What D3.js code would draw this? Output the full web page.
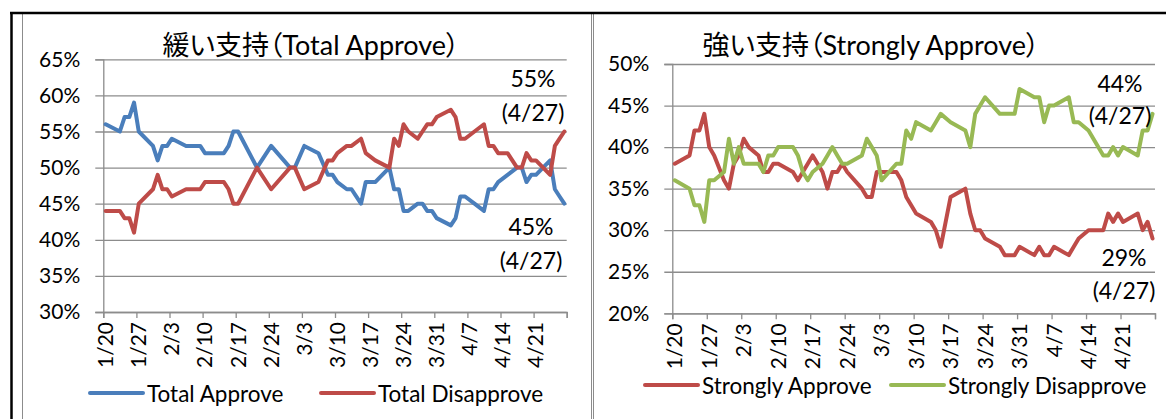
<!DOCTYPE html>
<html><head><meta charset="utf-8">
<script src="https://cdn.jsdelivr.net/npm/d3@7"></script>
<style>body{margin:0;background:#fff} svg{display:block} .ttl{font-feature-settings:"palt" 1;}</style>
</head><body>
<svg id="c" width="1166" height="419"></svg>
<script>
// ---------- data ----------
const tickLabels = ["1/20","1/27","2/3","2/10","2/17","2/24","3/3","3/10","3/17","3/24","3/31","4/7","4/14","4/21"];

const totalDates = ["1/20","1/23","1/24","1/25","1/26","1/27","1/30","1/31","2/1","2/2","2/3","2/6","2/9","2/10","2/14","2/15","2/16","2/17","2/21","2/24","2/28","3/1","3/3","3/6","3/8","3/9","3/10","3/12","3/13","3/15","3/16","3/18","3/21","3/22","3/23","3/24","3/25","3/27","3/28","3/29","3/30","3/31","4/3","4/4","4/5","4/6","4/8","4/10","4/11","4/12","4/13","4/15","4/17","4/18","4/19","4/20","4/21","4/24","4/25","4/26","4/27"];
const totalApprove = [56,55,57,57,59,55,53,51,53,53,54,53,53,52,52,53,55,55,50,53,50,50,53,52,49,49,48,47,47,45,48,48,50,47,47,44,44,45,45,44,44,43,42,43,46,46,45,44,47,47,48,49,50,50,48,49,49,51,47,46,45];
const totalDisapprove = [44,44,43,43,41,45,47,49,47,47,46,47,47,48,48,47,45,45,50,47,50,50,47,48,51,51,52,53,53,54,52,51,50,54,53,56,55,54,55,56,56,57,58,57,54,54,55,56,53,53,52,52,50,50,52,51,51,49,53,54,55];
const totalTicks = [30,35,40,45,50,55,60,65];

const strongDates = ["1/20","1/23","1/24","1/25","1/26","1/27","1/28","1/30","1/31","2/1","2/2","2/3","2/4","2/6","2/7","2/8","2/9","2/10","2/13","2/14","2/15","2/16","2/17","2/19","2/20","2/21","2/22","2/23","2/24","2/27","2/28","3/1","3/2","3/3","3/6","3/7","3/8","3/9","3/10","3/13","3/14","3/15","3/17","3/20","3/21","3/22","3/23","3/24","3/27","3/28","3/30","3/31","4/3","4/4","4/5","4/6","4/7","4/10","4/11","4/12","4/14","4/17","4/18","4/19","4/20","4/21","4/24","4/25","4/26","4/27"];
const stronglyApprove = [38,39,42,42,44,40,39,36,35,38,39,41,40,39,37,37,38,38,37,36,37,38,39,37,35,37,37,38,37,35,34,34,37,37,37,36,34,33,32,31,30,28,34,35,32,30,30,29,28,27,27,28,27,28,27,27,28,27,28,29,30,30,32,31,32,31,32,30,31,29];
const stronglyDisapprove = [36,35,33,33,31,36,36,37,41,38,40,38,38,38,37,39,39,40,40,39,37,36,37,38,39,40,39,38,38,39,41,40,39,36,38,38,42,41,43,42,43,44,43,42,40,44,45,46,44,44,44,47,46,46,43,45,45,46,43,43,42,39,39,40,39,40,39,42,42,44];
const strongTicks = [20,25,30,35,40,45,50];

// ---------- helpers ----------
const FONT = "Lato, 'Noto Sans CJK JP', sans-serif";
const GRID = "#8c8c8c";
const start = new Date(2017, 0, 20);
const dayIndex = s => { const [m, d] = s.split("/").map(Number); return Math.round((new Date(2017, m - 1, d) - start) / 864e5); };
const svg = d3.select("#c");

function drawChart(cfg) {
  const g = svg.append("g");
  const x = d3.scaleLinear().domain([-0.5, 97.5]).range([cfg.x0, cfg.x1]);
  const y = d3.scaleLinear().domain([d3.min(cfg.ticks), d3.max(cfg.ticks)]).range([cfg.yBot, cfg.yTop]);
  const w = cfg.x1 - cfg.x0;

  // gridlines + y labels (via axis)
  const ya = g.append("g").attr("transform", `translate(${cfg.x0},0)`)
    .call(d3.axisLeft(y).tickValues(cfg.ticks).tickFormat(d => d + "%").tickSize(8).tickPadding(15));
  ya.select(".domain").attr("stroke", GRID).attr("stroke-width", 1.3);
  ya.selectAll(".tick line").attr("stroke", GRID).attr("stroke-width", 1.3).attr("x1", -8).attr("x2", w);
  ya.selectAll(".tick text").attr("font-family", FONT).attr("font-size", cfg.fs).attr("fill", "#000");

  // x axis: ticks at week boundaries, labels at week start days
  const xa = g.append("g").attr("transform", `translate(0,${cfg.yBot})`)
    .call(d3.axisBottom(x).tickValues(d3.range(0, 15).map(k => 7 * k - 0.5)).tickSize(6).tickFormat(""));
  xa.select(".domain").attr("stroke", GRID).attr("stroke-width", 1.3);
  xa.selectAll(".tick line").attr("stroke", GRID).attr("stroke-width", 1.3);
  g.append("g").selectAll("text").data(tickLabels).join("text")
    .attr("transform", d => `translate(${x(dayIndex(d)) + 7.5},${cfg.yBot + 10}) rotate(-90)`)
    .attr("text-anchor", "end").attr("font-family", FONT).attr("font-size", cfg.fs).text(d => d);

  // series lines
  cfg.series.forEach(s => {
    const pts = cfg.dates.map((d, i) => [dayIndex(d), s.values[i]]);
    g.append("path").datum(pts)
      .attr("d", d3.line().x(p => x(p[0])).y(p => y(p[1])))
      .attr("fill", "none").attr("stroke", s.color).attr("stroke-width", 4)
      .attr("stroke-linejoin", "round").attr("stroke-linecap", "round");
  });

  // title
  g.append("text").attr("class", "ttl").attr("x", cfg.titleX).attr("y", cfg.titleY).attr("text-anchor", "middle")
    .attr("font-family", FONT).attr("font-size", cfg.titleFs).text(cfg.title);

  // annotations
  cfg.notes.forEach(n => {
    n.lines.forEach((t, k) => g.append("text").attr("x", n.x).attr("y", n.y + k * n.dy)
      .attr("text-anchor", "middle").attr("dominant-baseline", "central")
      .attr("font-family", FONT).attr("font-size", cfg.noteFs).text(t));
  });

  // legend
  cfg.series.forEach((s, i) => {
    const lx = cfg.legend.xs[i];
    g.append("line").attr("x1", lx).attr("x2", lx + 53).attr("y1", cfg.legend.y).attr("y2", cfg.legend.y)
      .attr("stroke", s.color).attr("stroke-width", 4).attr("stroke-linecap", "round");
    g.append("text").attr("x", lx + 57).attr("y", cfg.legend.y).attr("dominant-baseline", "central")
      .attr("font-family", FONT).attr("font-size", cfg.legendFs).text(s.name);
  });
}

// frames
svg.append("rect").attr("x", 22.5).attr("y", 13).attr("width", 569).attr("height", 420).attr("fill", "none").attr("stroke", "#8c8c8c");
svg.append("rect").attr("x", 593.5).attr("y", 13).attr("width", 600).attr("height", 420).attr("fill", "none").attr("stroke", "#8c8c8c");
svg.append("line").attr("x1", 10).attr("x2", 1166).attr("y1", 13).attr("y2", 13).attr("stroke", "#000").attr("stroke-width", 2.5);
svg.append("line").attr("x1", 11.5).attr("x2", 11.5).attr("y1", 12).attr("y2", 419).attr("stroke", "#000").attr("stroke-width", 2.5);

drawChart({
  x0: 103.3, x1: 566.7, yTop: 59.3, yBot: 312, ticks: totalTicks, dates: totalDates, fs: 21, legendFs: 22.5,
  series: [
    { name: "Total Approve", color: "#4a7ebb", values: totalApprove },
    { name: "Total Disapprove", color: "#be4b48", values: totalDisapprove }
  ],
  title: "緩い支持（Total Approve）", titleX: 311, titleY: 55, titleFs: 27,
  notes: [
    { lines: ["55%", "(4/27)"], x: 533, y: 78, dy: 34 },
    { lines: ["45%", "(4/27)"], x: 531, y: 226, dy: 34 }
  ],
  noteFs: 23,
  legend: { y: 393, xs: [90, 321] }
});

drawChart({
  x0: 672.3, x1: 1155, yTop: 64, yBot: 313.3, ticks: strongTicks, dates: strongDates, fs: 21, legendFs: 22.5,
  series: [
    { name: "Strongly Approve", color: "#be4b48", values: stronglyApprove },
    { name: "Strongly Disapprove", color: "#98b954", values: stronglyDisapprove }
  ],
  title: "強い支持（Strongly Approve）", titleX: 871, titleY: 55, titleFs: 27,
  notes: [
    { lines: ["44%", "(4/27)"], x: 1120, y: 83, dy: 32 },
    { lines: ["29%", "(4/27)"], x: 1124, y: 257, dy: 33 }
  ],
  noteFs: 23,
  legend: { y: 385, xs: [645, 891] }
});
</script>
</body></html>
